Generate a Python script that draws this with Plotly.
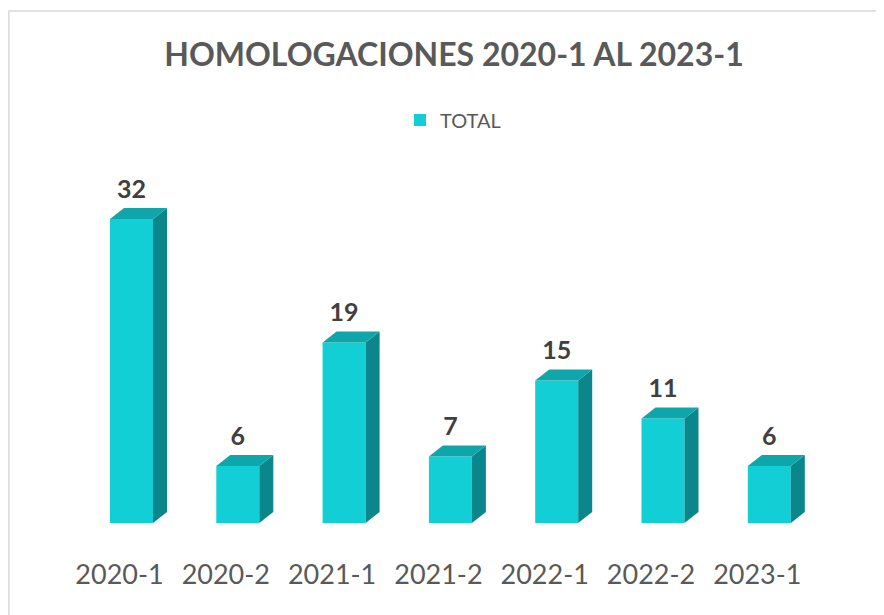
import plotly.graph_objects as go

categories = ["2020-1", "2020-2", "2021-1", "2021-2", "2022-1", "2022-2", "2023-1"]
totals = [32, 6, 19, 7, 15, 11, 6]
series_name = "TOTAL"
title_text = "HOMOLOGACIONES 2020-1 AL 2023-1"

OFF = 8  # page body margin
W, H = 884 - OFF, 615 - OFF
FRONT = "#12CFD6"
SIDE = "#0B878C"
TOP = "#0FA6AB"

# pixel geometry in window coordinates (layout only)
px_spacing = 106.3
px_first = 131.5 - OFF
px_base = 523 - OFF
px_per_unit = 9.5
ymax = 36
bar_px = 43
depth_dx_px, depth_dy_px = 14, 11

x0 = -px_first / px_spacing
x1 = x0 + W / px_spacing
bw = bar_px / px_spacing
ddx = depth_dx_px / px_spacing
ddy = depth_dy_px / px_per_unit
lab_lift = 4 / px_per_unit

xs = list(range(len(categories)))

fig = go.Figure()
fig.add_trace(go.Bar(x=xs, y=totals, width=bw, marker=dict(color=FRONT, line=dict(width=0)),
                     name=series_name, showlegend=True, hoverinfo="skip"))

for i, v in zip(xs, totals):
    xl, xr = i - bw / 2, i + bw / 2
    fig.add_trace(go.Scatter(x=[xr, xr + ddx, xr + ddx, xr, xr], y=[0, ddy, v + ddy, v, 0],
                             fill="toself", fillcolor=SIDE, line=dict(width=0), mode="lines",
                             showlegend=False, hoverinfo="skip"))
    fig.add_trace(go.Scatter(x=[xl, xl + ddx, xr + ddx, xr, xl], y=[v, v + ddy, v + ddy, v, v],
                             fill="toself", fillcolor=TOP, line=dict(width=0), mode="lines",
                             showlegend=False, hoverinfo="skip"))

fig.add_trace(go.Scatter(x=xs, y=[v + ddy + lab_lift for v in totals], mode="text",
                         text=[str(v) for v in totals], textposition="top center",
                         textfont=dict(family="Lato", size=25, color="#404040", weight="bold"),
                         showlegend=False, hoverinfo="skip", cliponaxis=False))

fig.update_layout(
    width=W, height=H,
    margin=dict(l=0, r=0, t=0, b=0),
    paper_bgcolor="white", plot_bgcolor="white",
    title=dict(text="<b>" + title_text + "</b>", x=(454 - OFF) / W, xanchor="center",
               y=1 - (55 - OFF) / H, yanchor="middle",
               font=dict(family="Lato", size=32, color="#595959")),
    legend=dict(orientation="h", x=(400 - OFF) / W, xanchor="left", y=1 - (120 - OFF) / H,
                yanchor="middle", itemwidth=30,
                font=dict(family="Lato", size=20, color="#595959"), bgcolor="rgba(0,0,0,0)"),
    xaxis=dict(range=[x0, x1], tickmode="array",
               tickvals=[i - 12 / px_spacing for i in xs], ticktext=categories,
               showgrid=False, zeroline=False, showline=False, ticks="", ticklabelstandoff=33,
               tickfont=dict(family="Lato", size=27, color="#595959"), fixedrange=True),
    yaxis=dict(range=[0, ymax], domain=[1 - px_base / H, 1 - (px_base - px_per_unit * ymax) / H],
               visible=False, fixedrange=True),
    shapes=[dict(type="rect", xref="paper", yref="paper", x0=0.001, x1=1.02,
                 y0=-0.02, y1=1 - (11 - OFF) / H, line=dict(color="#D9D9D9", width=1.5),
                 layer="below")],
)

fig.write_html("out.html")
